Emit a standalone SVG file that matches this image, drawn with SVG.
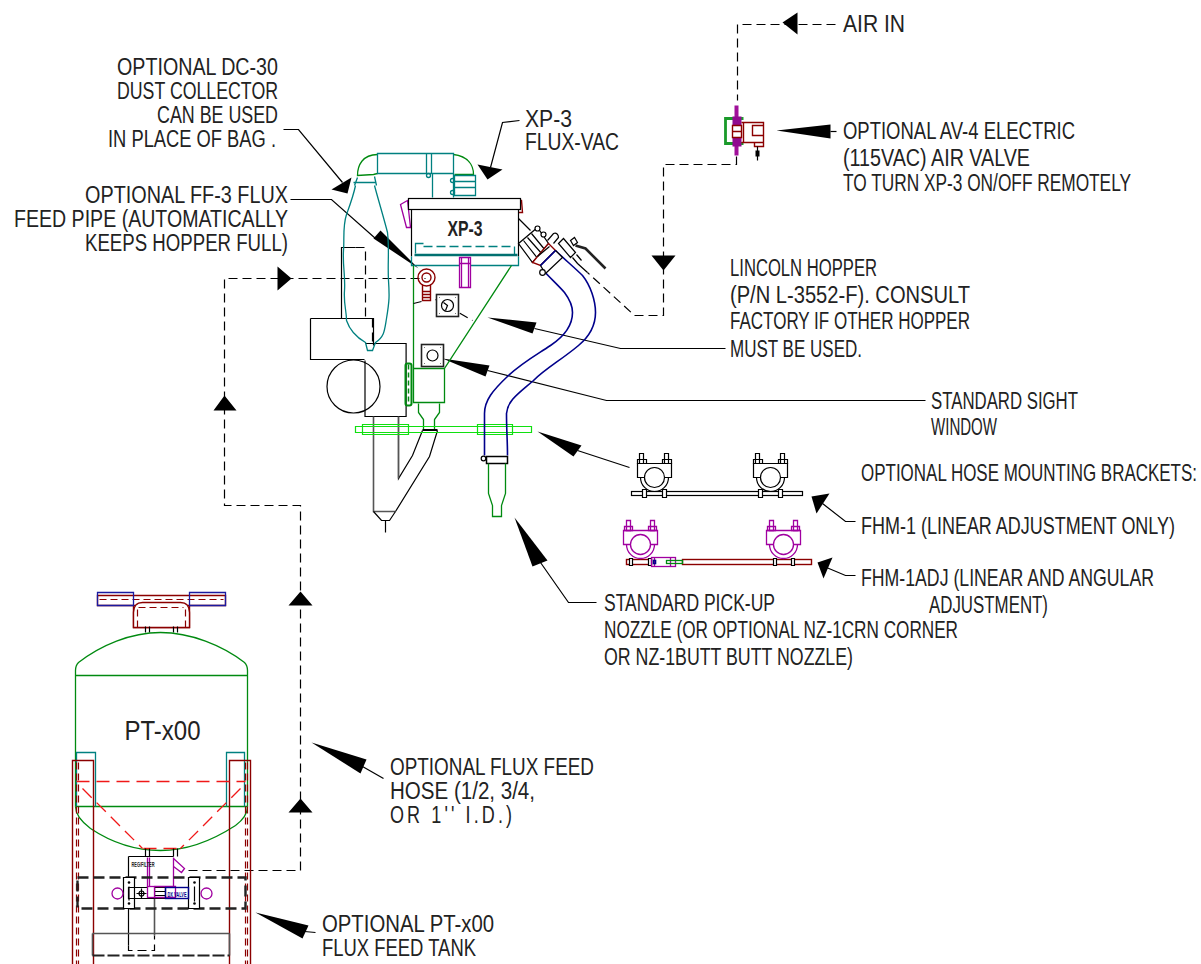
<svg xmlns="http://www.w3.org/2000/svg" width="1201" height="964" viewBox="0 0 1201 964">
<style>
text{font-family:"Liberation Sans",Arial,sans-serif;font-size:23px;fill:#222;font-weight:400}
.s{font-size:18px}
.l{fill:none;stroke:#000;stroke-width:1.2}
.d{fill:none;stroke:#000;stroke-width:1.2;stroke-dasharray:9 5}
.a{fill:#000;stroke:none}
.k{fill:none;stroke:#000;stroke-width:1.2}
.kf{fill:#fff;stroke:#000;stroke-width:1.2}
.g{fill:none;stroke:#008a10;stroke-width:1.3}
.lg{fill:none;stroke:#10e010;stroke-width:1.2}
.t{fill:none;stroke:#008080;stroke-width:1.3}
.r{fill:none;stroke:#8b0000;stroke-width:1.4}
.rf{fill:#fff;stroke:#8b0000;stroke-width:1.4}
.rd{fill:none;stroke:#8b0000;stroke-width:1.2;stroke-dasharray:7 4}
.brd{fill:none;stroke:#f01818;stroke-width:1.3;stroke-dasharray:13 7}
.p{fill:none;stroke:#a000a0;stroke-width:1.3}
.pf{fill:#fff;stroke:#a000a0;stroke-width:1.3}
.b{fill:none;stroke:#00008b;stroke-width:1.6}
.gr{fill:none;stroke:#555;stroke-width:1.6}
</style>
<defs>
<g id="clamp">
<path class="k" d="M-14,0A14,14 0 0 0 14,0"/>
<path class="kf" d="M-17,-14H17V0H-17Z"/>
<circle class="kf" cx="0" cy="0" r="10"/>
<path class="kf" d="M-15,-24h4v10h-4zM10,-24h4v10h-4z"/>
<path class="k" d="M-17,-18h9v4h-9zM8,-18h9v4h-9z"/>
</g>
<g id="pclamp">
<path class="p" d="M-14,0A14,14 0 0 0 14,0"/>
<path class="pf" d="M-17,-14H17V0H-17Z"/>
<circle class="pf" cx="0" cy="0" r="10"/>
<path class="pf" d="M-14,-24h4v10h-4zM10,-24h4v10h-4z"/>
<path class="p" d="M-16,-18h8v4h-8zM8,-18h8v4h-8z"/>
</g>
</defs>

<g id="connectors" transform="translate(.5 .5)">
<path class="l" d="M283,129H298L342,182"/><path class="a" d="M351,177L331,189L347,193Z"/>
<path class="l" d="M519,120L502,122L490,167"/><path class="a" d="M477,164L502,169L487,179Z"/>
<path class="l" d="M290,199H331L375,238"/><path class="a" d="M380,230L373,238L418,268Z"/>
<path class="l" d="M725,348H620L534,328"/><path class="a" d="M487,317L536,322L532,333Z"/>
<path class="l" d="M925,400H606L487,370"/><path class="a" d="M442,358L489,365L485,376Z"/>
<path class="l" d="M577,450L629,467"/><path class="a" d="M537,431L581,445L573,456Z"/>
<path class="l" d="M822,503L845,521H855"/><path class="a" d="M811,496L829,493L816,513Z"/>
<path class="l" d="M826,567L845,575H855"/><path class="a" d="M817,562L832,557L823,578Z"/>
<path class="l" d="M540,562L568,602H596"/><path class="a" d="M514,517L547,560L532,566Z"/>
<path class="l" d="M362,766L383,778"/><path class="a" d="M311,742L366,759L360,773Z"/>
<path class="l" d="M304,931L315,932"/><path class="a" d="M255,912L308,925L302,938Z"/>
<path class="l" d="M830,131H836"/><path class="a" d="M776,130L830,124V138Z"/>
<path class="d" d="M835,24H737V100"/><path class="a" d="M782,22L797,12V34Z"/>
<path class="d" d="M736,156V164H663V315H634L587,272"/><path class="a" d="M651,255H675L663,270Z"/>
<path class="d" d="M188,870H300V505H224V278H425"/>
<path class="a" d="M288,812H312L300,798ZM288,605H312L300,591ZM213,410H236L224,395ZM277,266V290L291,278Z"/>
<path class="d" d="M435,299L472,320"/>
</g>

<g id="xp3-flux-vac" transform="translate(.5 .5)">
<path class="k" d="M310,318H373V345M310,318V359H364M341,318V247H355"/>
<path class="d" d="M355,247H365V318M372,318V343"/>
<path class="k" d="M365,343H405.600V416H364.500V360"/>
<circle class="k" cx="353" cy="386" r="26.500"/>
<path class="k" d="M398,416V478L412,455L422,430M437,430L429,456L395,511"/>
<path class="gr" d="M373,416V511H395M398,416V478"/>
<path class="k" d="M373,511L381,520H389L395,511M385,520V532"/>
<path class="t" d="M355,185C353,195 350,203 346,214C342,226 344,238 343,250C342,265 345,275 344,290C343,303 346,310 346,320C350,332 358,338 365,342L367,350H372L375,342C384,336 384,330 386,318C389,300 389,295 388,280C387,262 389,250 387,232C384,220 378,200 374,185M353,182H375M357,177L354,185M374,176L376,185"/>
<path class="g" d="M377,154C362,154 357,165 357,175L373,174L377,173M453,154C468,156 473,165 473,174H454"/>
<path class="t" d="M377,153H453V173H377ZM426,153V173M431,153V173M432,173V197M453,173V197M454,175H475V195H454ZM454,181H475M454,187H475"/>
<circle class="t" cx="428" cy="175" r="2"/><circle class="t" cx="452" cy="180" r="2"/><circle class="t" cx="452" cy="192" r="2"/>
<path class="pf" d="M400,204L407,200L410,227H406Z"/>
<path class="r" d="M518,200H521L522,212H518"/>
<rect class="kf" x="408" y="198" width="112" height="11"/>
<path class="k" d="M411,209H518V256"/><path class="k" d="M411,209V256"/>
<path class="t" d="M411,256V265H518V256M415,253V243H423"/>
<path class="t" d="M423,246H514V254" stroke-dasharray="9 4"/>
<path fill="none" stroke="#007070" stroke-width="2.400" d="M414,254.500H517"/>
<text x="447" y="235" style="font-size:22px;font-weight:700" textLength="35" lengthAdjust="spacingAndGlyphs">XP-3</text>
<path class="pf" d="M459,257H470V287H459ZM461,257V287M468,257V287M459,263H470"/>
<path class="g" d="M413,265V402H444V368L511,265M413,368H444"/>
<rect x="405" y="363" width="6" height="42" rx="2" fill="none" stroke="#008a10" stroke-width="2"/>
<path fill="none" stroke="#008a10" stroke-width="1.500" stroke-dasharray="5 3" d="M408,364V404"/>
<path class="g" d="M418,403V412L423,419V429M439,403V412L434,419V429"/>
<circle class="r" cx="426" cy="277" r="8.500"/><circle class="r" cx="426" cy="277" r="4.500"/>
<path class="r" d="M422,284V291M430,284V291M422,291H430V300H422ZM422,294H430M422,297H430"/>
<path class="k" d="M413,303L421,301"/>
<rect x="436" y="294" width="22" height="22" fill="#fff" stroke="#222" stroke-width="1.600"/>
<circle class="k" cx="447" cy="305" r="6"/><path class="k" d="M443,302L447,305L445,310"/>
<path class="k" d="M439,297h.5M455,297h.5M439,313h.5M455,313h.5" stroke-width="2.500"/>
<rect x="421" y="344" width="22" height="22" fill="#fff" stroke="#222" stroke-width="1.600"/>
<circle class="k" cx="432" cy="355" r="5.500"/>
<path class="k" d="M424,347h.5M440,347h.5M424,363h.5M440,363h.5" stroke-width="2.500"/>
<path class="lg" d="M355,426H531V432H355ZM362,424H408V434H362ZM477,424H512V434H477Z"/>
<path fill="none" stroke="#000" stroke-width="2" d="M422,429.500H437"/>
<path class="k" d="M518,218L530,230"/>
<path class="b" d="M543,270C548,276 558,285 564,292C570,300 572,305 572,312C572,325 565,335 550,345C535,355 522,362 508,375C492,390 484,400 484,413V455"/>
<path class="b" d="M555,250C562,257 575,268 582,275C590,285 595,300 595,312C595,325 590,335 578,345C560,360 545,368 533,380C518,393 507,400 506,413C506,430 507,440 507,455"/>
<path class="kf" d="M518,243L537,227L548,243L532,262Z"/>
<path class="k" d="M523,240L538,259M527,237L542,254M531,233L545,250" stroke="#101060"/>
<path class="rf" d="M532,262L548,243L555,250L540,265Z"/>
<path class="k" d="M537,256L549,246"/>
<path class="kf" d="M540,265L555,250L562,257L545,273Z"/>
<path class="b" d="M540,265L555,250"/>
<circle class="kf" cx="537" cy="228" r="2.500"/><circle class="kf" cx="543" cy="234" r="2.500"/><circle class="kf" cx="542" cy="272" r="2.800"/>
<path class="k" d="M547,240L553,233C556,232 558,234 558,237L553,243"/>
<path class="kf" d="M558,243L563,238L575,252L570,257Z"/>
<path class="kf" d="M570,240L574,237L577,242L573,245Z"/>
<path fill="none" stroke="#222" stroke-width="2.600" d="M575,245L585,248L605,268"/>
<path class="k" d="M572,257L577,263L587,272M576,254L581,260"/>
<rect x="486" y="456" width="21" height="7" fill="#fff" stroke="#000" stroke-width="1.500"/>
<circle class="k" cx="483" cy="458" r="2.300"/>
<path class="g" d="M488,463V493L492,505V516H501V505L505,493V463"/>
</g>

<g id="air-valve" transform="translate(.5 .5)">
<path fill="none" stroke="#1a9a2a" stroke-width="2.800" d="M743,118H725V143H743"/>
<rect x="734" y="105" width="4" height="12" fill="#a0109a"/><rect x="734" y="145" width="4" height="10" fill="#a0109a"/>
<rect x="732" y="116" width="9" height="9" fill="#900b90"/><rect x="732" y="137" width="9" height="9" fill="#900b90"/>
<path class="r" d="M732,125H741V137H732ZM732,131H741M741,122H743V142H741M743,122H763V142H743ZM752,125H763V135H752ZM754,142H763V146H754Z"/>
<path class="k" d="M757,146V160"/><rect x="755" y="150" width="4" height="6" fill="#000"/>
</g>

<g id="hose-brackets" transform="translate(.5 .5)">
<rect class="kf" x="631" y="491" width="171" height="4"/>
<use href="#clamp" x="654" y="477"/><use href="#clamp" x="770" y="477"/>
<path class="kf" d="M642,489h4v8h-4zM662,489h4v8h-4zM758,489h4v8h-4zM778,489h4v8h-4z"/>
<rect class="r" x="626" y="559" width="25" height="5"/><rect class="r" x="682" y="559" width="129" height="5"/>
<use href="#pclamp" x="640" y="544"/><use href="#pclamp" x="783" y="544"/>
<path class="kf" d="M629,558h3v7h-3zM648,558h3v7h-3zM773,558h3v7h-3zM791,558h3v7h-3z"/>
<rect class="p" x="651" y="557" width="24" height="9"/>
<path class="p" d="M654,557V566M670,557V566"/>
<rect class="g" x="666" y="560" width="16" height="3"/>
<rect class="b" x="653" y="560" width="2" height="3"/>
</g>

<g id="pt-tank" transform="translate(.5 .5)">
<path class="r" d="M97,595H225V605H97ZM133,605V627H189V605"/>
<path class="rf" d="M133,627V612Q133,602 142,602H180Q189,602 189,612V627Z"/>
<path class="rd" d="M99,599H223M138,607H183M137,609V627M185,609V627"/>
<path fill="none" stroke="#1a1aa0" stroke-width="1.300" d="M97,592H133V605H97ZM189,592H225V605H189Z"/>
<path class="k" d="M145,626V632M149,626V632M173,626V632M177,626V632"/>
<path class="g" d="M75,806V670Q75,665 78,662C100,645 130,632 160,632C190,632 222,645 244,662Q247,665 247,670V806M75,675H247M75,806H247"/>
<path class="g" d="M75,806C75,815 82,822 90,828C105,838 130,850 160,850C190,850 215,838 235,825C243,819 247,812 247,806"/>
<path class="t" d="M76,806V752H95V806M226,806V752H244V806"/>
<text x="124" y="739" style="font-size:27px" textLength="76" lengthAdjust="spacingAndGlyphs">PT-x00</text>
<path class="r" d="M72,964V760H93V964M229,964V760H250V964"/>
<path class="rd" d="M76,762V964M78,762V964M245,762V964M247,762V964"/>
<path class="brd" d="M76,781H245M82,788L142,848M240,788L180,848M143,848H180"/>
<path class="k" d="M145,848V856M149,848V856M173,848V856M177,848V856"/>
<path class="k" d="M128,856H173M128,856V945"/>
<path class="d" d="M128,945V950H154V935"/>
<path class="p" d="M147,857V887M149,857V887M173,857V887"/>
<path class="p" d="M173,858L184,868L181,872L173,866"/>
<text x="131" y="866" style="font-size:8px;font-weight:700" textLength="23" lengthAdjust="spacingAndGlyphs">REG/FILTER</text>
<path class="gr" d="M154,887V935"/>
<path fill="none" stroke="#222" stroke-width="2.400" stroke-dasharray="11 5" d="M77,877H245V908H77Z"/>
<path class="kf" d="M123,877H134V908H123ZM188,877H199V908H188Z"/>
<circle class="p" cx="117" cy="893" r="5.500"/><circle class="p" cx="206" cy="893" r="5.500"/>
<path class="k" d="M128,887H165V898H128ZM154,891H165M154,895H165M194,886V901M128.500,886V900"/>
<circle cx="128.500" cy="882" r="1.300" fill="#000"/><circle cx="128.500" cy="903" r="1.300" fill="#000"/><circle cx="194" cy="882" r="1.300" fill="#000"/><circle cx="194" cy="903" r="1.300" fill="#000"/>
<path class="k" d="M136,893H146M141,888V898"/><circle class="k" cx="141" cy="893" r="2.500"/>
<rect class="pf" x="147" y="886" width="7" height="11"/>
<path class="p" d="M154,886H175V897H154"/>
<rect x="165" y="887" width="23" height="11" fill="none" stroke="#00008b" stroke-width="1.400"/>
<text x="167" y="896" style="font-size:8px;font-weight:700;fill:#00008b" textLength="19" lengthAdjust="spacingAndGlyphs">DX VALVE</text>
<path class="gr" d="M92,933V955M229,933V955M92,933H229"/>
<path fill="none" stroke="#222" stroke-width="1.800" stroke-dasharray="12 3" d="M92,955H229"/>
</g>

<g id="labels">
<text x="117" y="75" textLength="161" lengthAdjust="spacingAndGlyphs">OPTIONAL DC-30</text>
<text x="117" y="99" textLength="161" lengthAdjust="spacingAndGlyphs">DUST COLLECTOR</text>
<text x="157" y="123" textLength="121" lengthAdjust="spacingAndGlyphs">CAN BE USED</text>
<text x="108" y="147" textLength="168" lengthAdjust="spacingAndGlyphs">IN PLACE OF BAG .</text>
<text class="s" transform="translate(525 127) scale(1 1.28)" textLength="47" lengthAdjust="spacingAndGlyphs">XP-3</text>
<text class="s" transform="translate(525 150) scale(1 1.28)" textLength="94" lengthAdjust="spacingAndGlyphs">FLUX-VAC</text>
<text x="85" y="203" textLength="203" lengthAdjust="spacingAndGlyphs">OPTIONAL FF-3 FLUX</text>
<text x="14" y="227" textLength="274" lengthAdjust="spacingAndGlyphs">FEED PIPE (AUTOMATICALLY</text>
<text x="85" y="251" textLength="203" lengthAdjust="spacingAndGlyphs">KEEPS HOPPER FULL)</text>
<text x="843" y="32" textLength="62" lengthAdjust="spacingAndGlyphs">AIR IN</text>
<text x="843" y="139" textLength="232" lengthAdjust="spacingAndGlyphs">OPTIONAL AV-4 ELECTRIC</text>
<text x="843" y="166" textLength="187" lengthAdjust="spacingAndGlyphs">(115VAC) AIR VALVE</text>
<text class="s" transform="translate(843 191) scale(1 1.28)" textLength="288" lengthAdjust="spacingAndGlyphs">TO TURN XP-3 ON/OFF REMOTELY</text>
<text x="730" y="276" textLength="147" lengthAdjust="spacingAndGlyphs">LINCOLN HOPPER</text>
<text x="730" y="303" textLength="240" lengthAdjust="spacingAndGlyphs">(P/N L-3552-F). CONSULT</text>
<text x="730" y="329" textLength="240" lengthAdjust="spacingAndGlyphs">FACTORY IF OTHER HOPPER</text>
<text x="730" y="357" textLength="132" lengthAdjust="spacingAndGlyphs">MUST BE USED.</text>
<text x="931" y="409" textLength="147" lengthAdjust="spacingAndGlyphs">STANDARD SIGHT</text>
<text x="931" y="435" textLength="66" lengthAdjust="spacingAndGlyphs">WINDOW</text>
<text transform="translate(861 481) scale(1 1.44)" style="font-size:16px" textLength="336" lengthAdjust="spacingAndGlyphs">OPTIONAL HOSE MOUNTING BRACKETS:</text>
<text transform="translate(861 534) scale(1 1.44)" style="font-size:16px" textLength="314" lengthAdjust="spacingAndGlyphs">FHM-1 (LINEAR ADJUSTMENT ONLY)</text>
<text transform="translate(861 586) scale(1 1.44)" style="font-size:16px" textLength="293" lengthAdjust="spacingAndGlyphs">FHM-1ADJ (LINEAR AND ANGULAR</text>
<text x="929" y="613" textLength="119" lengthAdjust="spacingAndGlyphs">ADJUSTMENT)</text>
<text x="604" y="611" textLength="171" lengthAdjust="spacingAndGlyphs">STANDARD PICK-UP</text>
<text x="604" y="638" textLength="354" lengthAdjust="spacingAndGlyphs">NOZZLE (OR OPTIONAL NZ-1CRN CORNER</text>
<text x="604" y="665" textLength="249" lengthAdjust="spacingAndGlyphs">OR NZ-1BUTT BUTT NOZZLE)</text>
<text x="390" y="775" textLength="204" lengthAdjust="spacingAndGlyphs">OPTIONAL FLUX FEED</text>
<text x="390" y="799" textLength="145" lengthAdjust="spacingAndGlyphs">HOSE (1/2, 3/4,</text>
<text class="s" transform="translate(390 823) scale(1 1.28)" textLength="122" lengthAdjust="spacing">OR 1'' I.D.)</text>
<text x="322" y="932" textLength="172" lengthAdjust="spacingAndGlyphs">OPTIONAL PT-x00</text>
<text x="322" y="956" textLength="154" lengthAdjust="spacingAndGlyphs">FLUX FEED TANK</text>
</g>
</svg>
